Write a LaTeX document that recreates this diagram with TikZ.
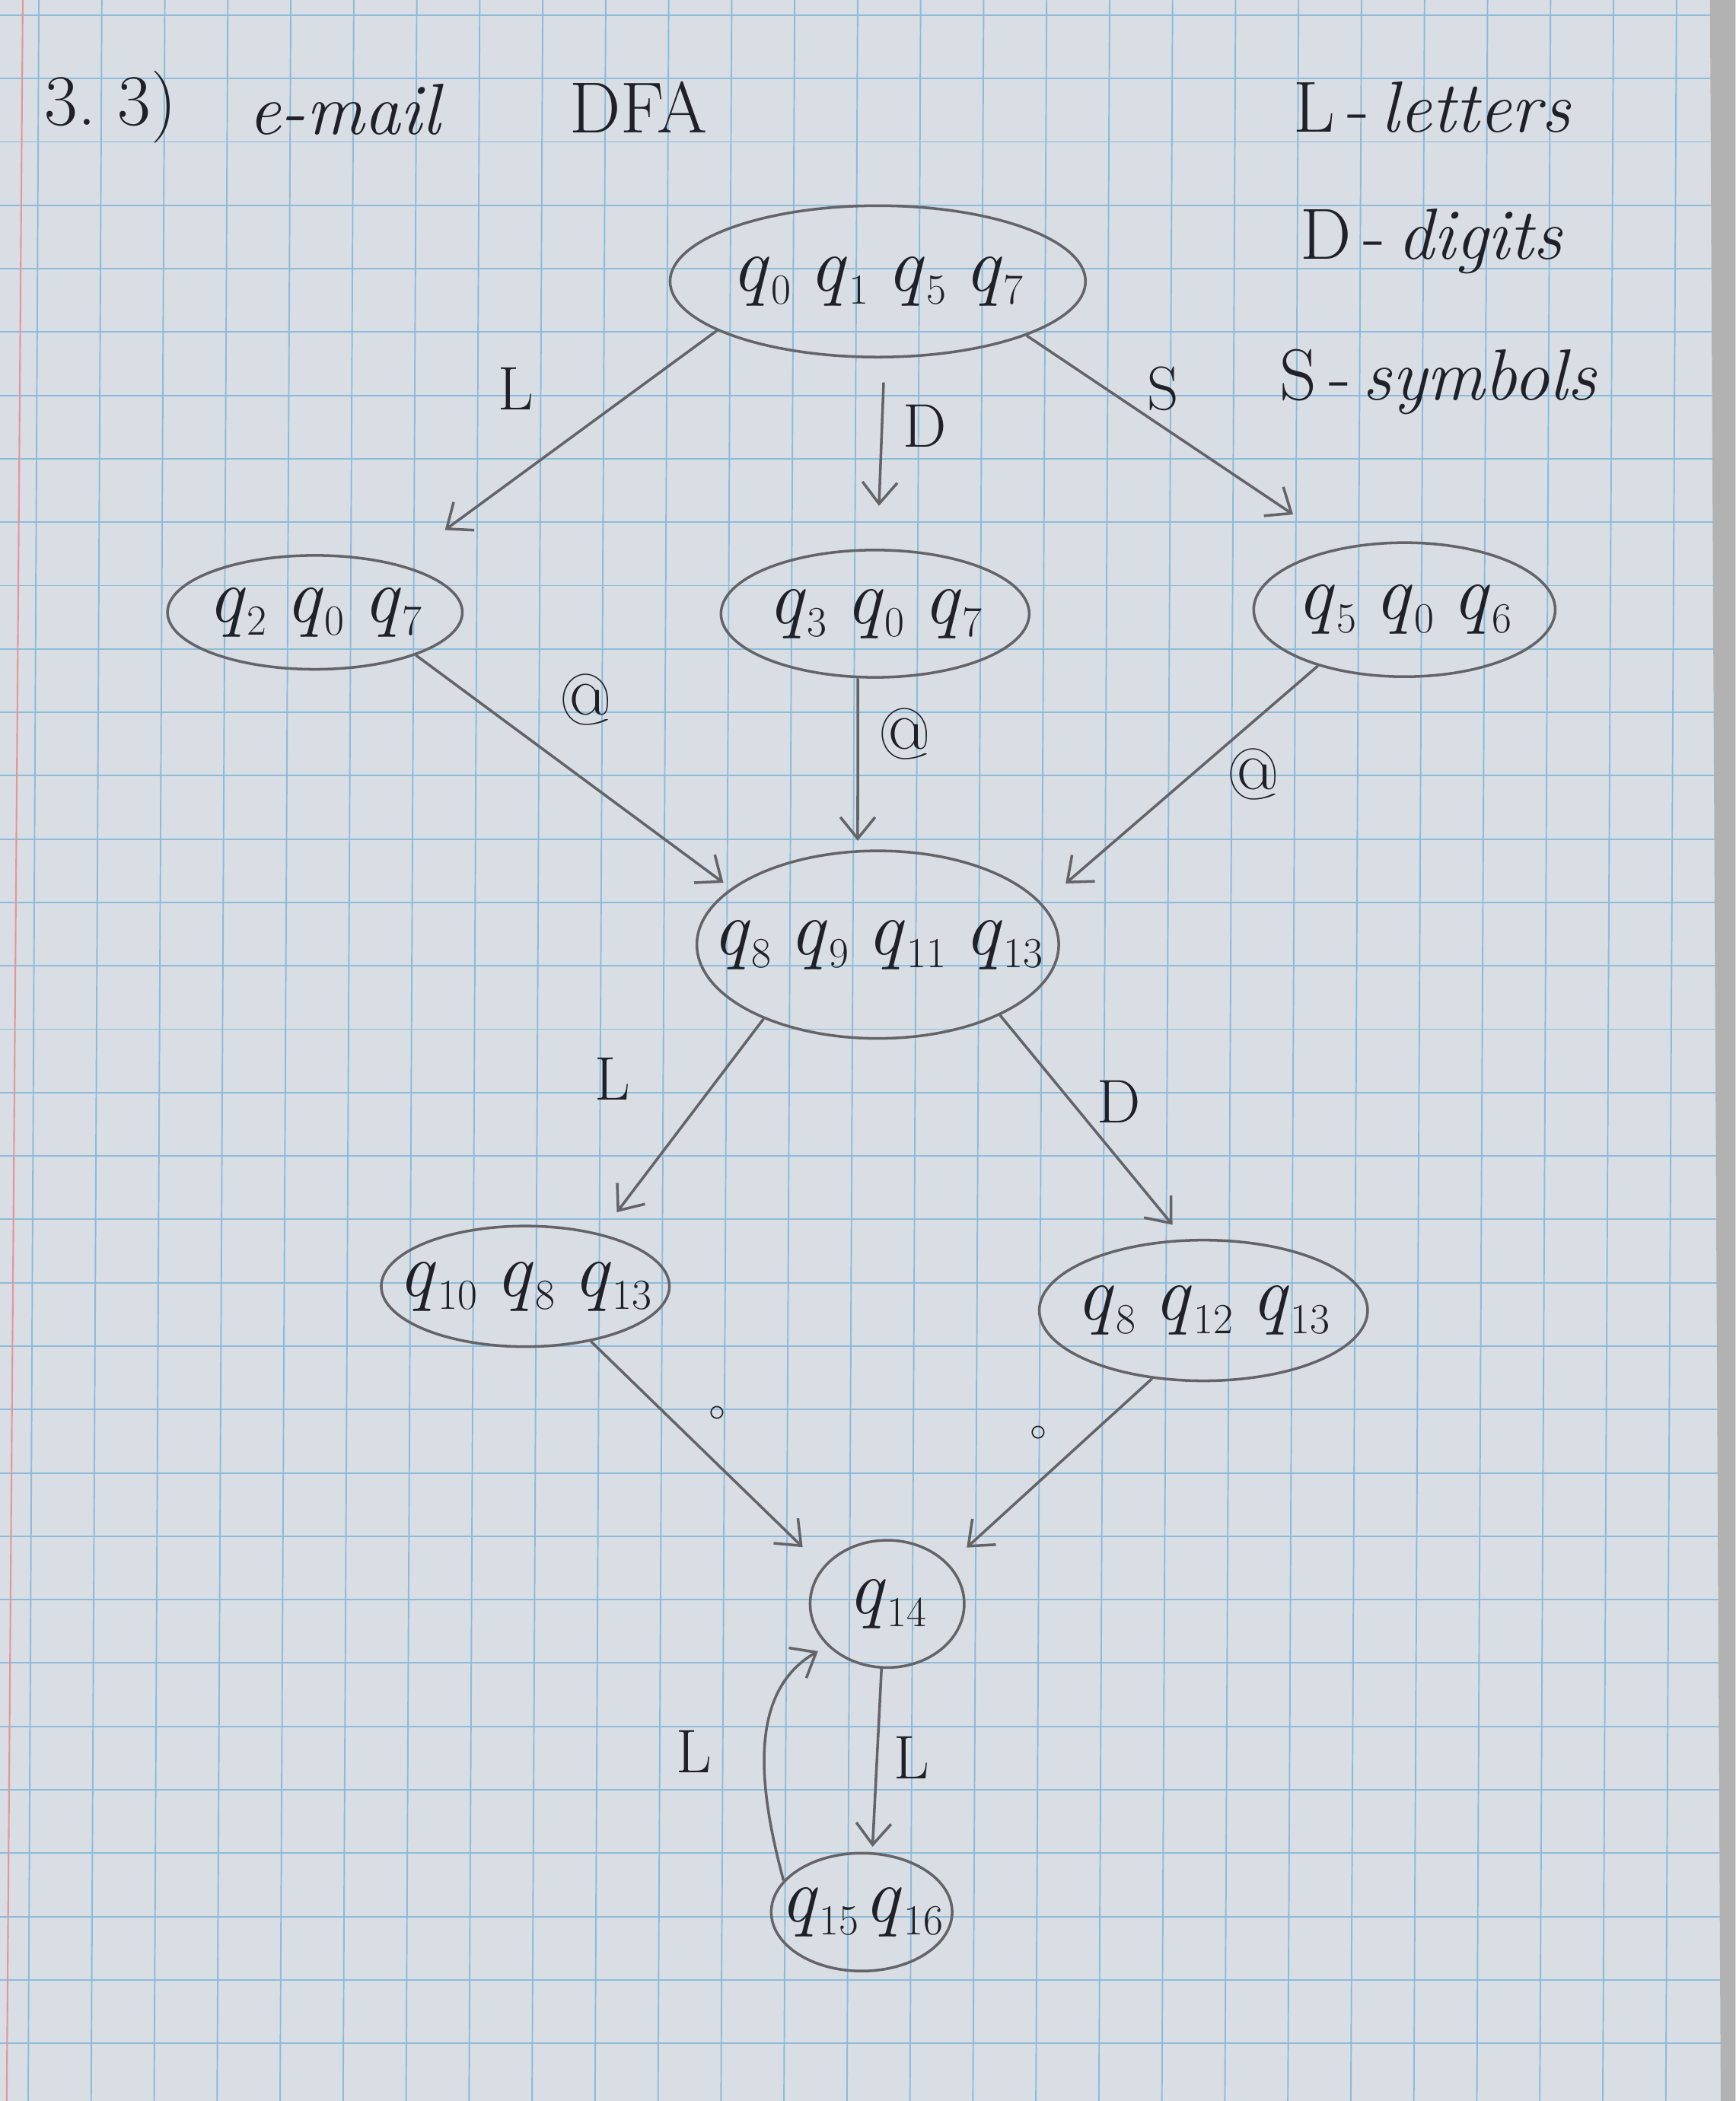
\documentclass[tikz,border=0pt]{standalone}
\usetikzlibrary{shapes.geometric,arrows.meta,positioning}
\definecolor{paper}{RGB}{216,222,228}
\definecolor{gridblue}{RGB}{140,188,218}
\definecolor{marginred}{RGB}{228,150,155}
\definecolor{pencil}{RGB}{100,100,104}
\definecolor{ink}{RGB}{32,32,40}
\newcommand{\qsub}[1]{\textit{q}\kern1pt\raisebox{-10pt}{\fontsize{32}{32}\selectfont #1}}
\newcommand{\qgap}{\hskip 14pt}
\tikzset{
		>={Straight Barb[length=16pt,width=26pt]},
		state/.style 2 args={
			ellipse,
			draw=pencil, line width=2pt,
			inner xsep=-35pt, inner ysep=0pt,
			minimum width=#1,
			minimum height=#2,
			text=ink,
			font=\fontsize{58}{60}\selectfont},
		edge/.style={draw=pencil, line width=2pt, ->},
		lbl/.style={text=ink, inner sep=0pt, font=\fontsize{46}{50}\selectfont},
		atlbl/.style={lbl, font=\fontsize{54}{56}\selectfont},
		dotlbl/.style={text=ink, inner sep=0pt, font=\fontsize{30}{32}\selectfont},
		hand/.style={text=ink, inner sep=0pt, anchor=west, font=\fontsize{54}{58}\selectfont},
		gridline/.style={draw=gridblue, line width=1.1pt},
	}

\begin{document}
\begin{tikzpicture}[x=1pt, y=-1pt]
			\useasboundingbox (0,0) rectangle (1295,1568);
			% paper
			\fill[paper] (0,0) rectangle (1295,1568);
			\foreach \x in {29,76,...,1270} \draw[gridline] (\x,0) -- (\x-8,1568);
			\foreach \y in {11.3,58.6,...,1568} \draw[gridline] (0,\y) -- (1295,\y);
			\draw[marginred, line width=1.2pt] (17,0) -- (5,1568);
			\fill[gray!60] (1276,0) -- (1295,0) -- (1295,1568) -- (1284,1568) -- cycle;
			
			\node[hand] (num) at (33,80) {3.\ 3)};
			\node[hand] (mail) at (185,82) {\itshape e-mail};
			\node[hand] (dfa) at (425,80) {DFA};
			\node[hand] (legL) at (965,80) {L\,-\,\itshape letters};
			\node[hand] (legD) at (970,180) {D\,-\,\itshape digits};
			\node[hand] (legS) at (955,285) {S\,-\,\itshape symbols};
			
			\node[state={310pt}{113pt}] (start) at (655,210) {\qsub{0}\qgap\qsub{1}\qgap\qsub{5}\qgap\qsub{7}};
			\node[state={220pt}{85pt}] (local) at (235,457) {\qsub{2}\qgap\qsub{0}\qgap\qsub{7}};
			\node[state={230pt}{95pt}] (dig) at (653,458) {\qsub{3}\qgap\qsub{0}\qgap\qsub{7}};
			\node[state={225pt}{100pt}] (sym) at (1048,455) {\qsub{5}\qgap\qsub{0}\qgap\qsub{6}};
			\node[state={270pt}{140pt}] (at) at (655,705) {\qsub{8}\qgap\qsub{9}\qgap\qsub{11}\qgap\qsub{13}};
			\node[state={215pt}{90pt}] (hostl) at (392,960) {\qsub{10}\qgap\qsub{8}\qgap\qsub{13}};
			\node[state={245pt}{105pt}] (hostd) at (898,978) {\qsub{8}\qgap\qsub{12}\qgap\qsub{13}};
			\node[state={115pt}{95pt}] (dot) at (662,1197) {\qsub{14}};
			\node[state={135pt}{88pt}] (tld) at (643,1427) {\qsub{15}\hskip4pt\qsub{16}};
			
			\draw[edge, shorten >=43pt] (start.197) -- (local.30);
			\draw[edge, shorten <=18pt, shorten >=32pt] (start.275) -- (dig.88);
			\draw[edge, shorten >=44pt] (start.340) -- (sym.135);
			\draw[edge, shorten >=7pt] (local.337) -- (at.159);
			\draw[edge, shorten >=7pt] (dig.255) -- (at.102);
			\draw[edge, shorten >=23pt] (sym.213) -- (at.14);
			\draw[edge, shorten >=20pt] (at.213) -- (hostl.35);
			\draw[edge, shorten >=14pt] (at.330) -- (hostd.105);
			\draw[edge, shorten >=21pt] (hostl.320) -- (dot.150);
			\draw[edge, shorten >=18pt] (hostd.233) -- (dot.33);
			\draw[edge, shorten >=4pt] (dot.265) -- (tld.80);
			\draw[edge, shorten >=8pt] (tld.158) to[out=105, in=210] (dot.215);
			
			\node[lbl] (l1) at (385,290) {L};
			\node[lbl] (d1) at (690,318) {D};
			\node[lbl] (s1) at (868,290) {S};
			\node[atlbl] (a1) at (437,522) {@};
			\node[atlbl] (a2) at (675,548) {@};
			\node[atlbl] (a3) at (935,578) {@};
			\node[lbl] (l2) at (457,805) {L};
			\node[lbl] (d2) at (835,822) {D};
			\node[dotlbl] (p1) at (535,1055) {$\circ$};
			\node[dotlbl] (p2) at (775,1070) {$\circ$};
			\node[lbl] (l3) at (680,1312) {L};
			\node[lbl] (l4) at (518,1307) {L};
\end{tikzpicture}
\end{document}
